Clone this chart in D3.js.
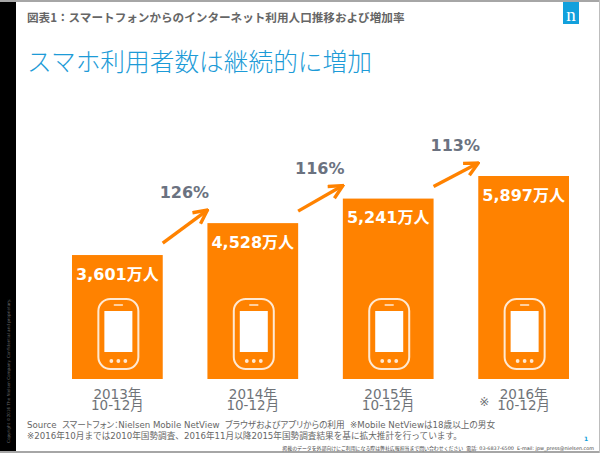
<!DOCTYPE html>
<html>
<head>
<meta charset="utf-8">
<script src="https://cdn.jsdelivr.net/npm/d3@7"></script>
<style>
  html, body { margin: 0; padding: 0; background: #fff; }
  svg { display: block; }
  text { font-family: "DejaVu Sans", "Noto Sans CJK JP", sans-serif; white-space: pre; }
  .jp { font-family: "Noto Sans CJK JP", sans-serif; }
  .note { font-feature-settings: "palt"; }
</style>
</head>
<body>
<svg width="600" height="453"></svg>
<script>
const years = ["2013年", "2014年", "2015年", "2016年"];
const months = ["10-12月", "10-12月", "10-12月", "10-12月"];
const users = [3601, 4528, 5241, 5897];
const growth = ["126%", "116%", "113%"];
const sourceLines = [
    "Source  スマートフォン：Nielsen Mobile NetView  ブラウザおよびアプリからの利用  ※Mobile NetViewは18歳以上の男女",
    "※2016年10月までは2010年国勢調査、2016年11月以降2015年国勢調査結果を基に拡大推計を行っています。"
];

const svg = d3.select("svg");
const orange = "#ff8200";
const grey = "#6b7280";

const x = d3.scaleBand().domain(years).range([72, 569]).paddingInner(0.33);
const y = d3.scaleLinear().domain([0, 5897]).range([379, 176]);

// slide frame
svg.append("rect").attr("width", 600).attr("height", 453).attr("fill", "#fff");
svg.append("rect").attr("width", 600).attr("height", 2).attr("fill", "#a6a6a6");
svg.append("rect").attr("y", 451).attr("width", 600).attr("height", 2).attr("fill", "#a6a6a6");
svg.append("rect").attr("x", 599).attr("width", 1).attr("height", 453).attr("fill", "#bdbdbd");
svg.append("rect").attr("y", 2).attr("width", 16).attr("height", 449).attr("fill", "#000");
svg.append("text")
    .attr("transform", "translate(10,443) rotate(-90)")
    .attr("font-size", 4.15)
    .attr("fill", "#666")
    .text("Copyright ©2016 The Nielsen Company. Confidential and proprietary.");

// logo
svg.append("rect").attr("x", 563).attr("y", 2).attr("width", 16).attr("height", 22).attr("fill", "#12a0dc");
svg.append("text").attr("x", 571).attr("y", 21)
    .attr("text-anchor", "middle")
    .attr("font-size", 19)
    .style("font-family", "'Liberation Serif', serif")
    .attr("fill", "#fff").text("n");

svg.append("text").attr("class", "jp")
    .attr("x", 27).attr("y", 22)
    .attr("font-size", 11.6).attr("font-weight", "bold")
    .attr("fill", "#666")
    .text("図表1：スマートフォンからのインターネット利用人口推移および増加率");

svg.append("text").attr("class", "jp")
    .attr("x", 27).attr("y", 71)
    .attr("font-size", 24.7).attr("font-weight", 300)
    .attr("fill", "#1d9bd7")
    .text("スマホ利用者数は継続的に増加");

// bars
const bar = svg.append("g").selectAll("g")
    .data(users)
    .enter().append("g");

bar.append("rect")
    .attr("x", (d, i) => x(years[i]))
    .attr("y", d => y(d))
    .attr("width", x.bandwidth())
    .attr("height", d => y(0) - y(d))
    .attr("fill", orange);

bar.append("text")
    .attr("x", (d, i) => x(years[i]) + x.bandwidth() / 2)
    .attr("y", d => y(d) + 24.5)
    .attr("text-anchor", "middle")
    .attr("font-size", 16).attr("font-weight", "bold")
    .attr("fill", "#fff")
    .text(d => d3.format(",")(d) + "万人");

// phone icon, placed from the bottom of each bar
const phone = bar.append("g")
    .attr("transform", (d, i) => `translate(${x(years[i]) + x.bandwidth() / 2 + 1},${y(0)})`);

phone.append("rect")
    .attr("x", -20).attr("y", -80).attr("width", 40).attr("height", 70).attr("rx", 12)
    .attr("fill", "none").attr("stroke", "#ffe9d2").attr("stroke-width", 2);
phone.append("rect")
    .attr("x", -14).attr("y", -68).attr("width", 28).attr("height", 41)
    .attr("fill", "#fff");
phone.append("line")
    .attr("x1", -4).attr("x2", 4).attr("y1", -74).attr("y2", -74)
    .attr("stroke", "#ffe9d2").attr("stroke-width", 1.5).attr("stroke-linecap", "round");
phone.selectAll("circle")
    .data([-7, 0, 7])
    .enter().append("circle")
    .attr("cx", d => d).attr("cy", -18).attr("r", 1.9)
    .attr("fill", "#ffe9d2");

// growth arrows between the bars
svg.append("defs").append("marker")
    .attr("id", "head")
    .attr("viewBox", "0 0 10 10")
    .attr("refX", 9).attr("refY", 5)
    .attr("markerWidth", 5).attr("markerHeight", 5)
    .attr("markerUnits", "strokeWidth")
    .attr("orient", "auto")
    .append("path")
    .attr("d", "M1,1 L9,5 L1,9")
    .attr("fill", "none").attr("stroke", orange).attr("stroke-width", 2);

const arrows = svg.append("g").selectAll("g")
    .data(growth)
    .enter().append("g");

arrows.append("line")
    .attr("x1", (d, i) => x(years[i]) + x.bandwidth())
    .attr("y1", (d, i) => y(users[i]) - 12)
    .attr("x2", (d, i) => x(years[i + 1]))
    .attr("y2", (d, i) => y(users[i + 1]) - 13)
    .attr("stroke", orange).attr("stroke-width", 3.4)
    .attr("marker-end", "url(#head)");

arrows.append("text")
    .attr("x", (d, i) => x(years[i]) + x.bandwidth() + x.step() * 0.16)
    .attr("y", (d, i) => y(users[i + 1]) - 25)
    .attr("text-anchor", "middle")
    .attr("font-size", 16).attr("font-weight", "bold")
    .attr("fill", grey)
    .text(d => d);

// two-line category labels
const axis = svg.append("g")
    .attr("transform", `translate(0,${y(0)})`)
    .call(d3.axisBottom(x).tickSize(0));
axis.select(".domain").remove();
axis.selectAll("text").each(function(d, i) {
    const t = d3.select(this).attr("y", 0).attr("dy", null).text(null)
        .attr("font-size", 13.5).attr("fill", "#6f7378")
        .style("font-family", '"DejaVu Sans", "Noto Sans CJK JP", sans-serif');
    t.append("tspan").attr("x", 0).attr("y", 19.5).text(d);
    t.append("tspan").attr("x", 0).attr("y", 31).text(months[i]);
});
svg.append("text")
    .attr("x", x(years[3]) + 6).attr("y", 406)
    .attr("text-anchor", "middle")
    .attr("font-size", 12).attr("fill", "#6f7378")
    .text("※");

// source notes
svg.append("g").selectAll("text")
    .data(sourceLines)
    .enter().append("text")
    .attr("class", (d, i) => i === 0 ? "note" : null)
    .attr("x", 27)
    .attr("y", (d, i) => 428 + i * 11)
    .attr("font-size", 8.65)
    .attr("fill", "#666")
    .text(d => d);

svg.append("text")
    .attr("x", 586).attr("y", 441)
    .attr("text-anchor", "middle")
    .attr("font-size", 6).attr("font-weight", "bold")
    .attr("fill", "#12a0dc").text("1");

svg.append("text")
    .attr("x", 594).attr("y", 449.5)
    .attr("text-anchor", "end")
    .attr("font-size", 4.9)
    .attr("fill", "#444")
    .text("掲載のデータを外部向けにご利用になる際は弊社広報担当まで問い合わせください  電話: 03-6837-6500  E-mail: jpw_press@nielsen.com");
</script>
</body>
</html>
